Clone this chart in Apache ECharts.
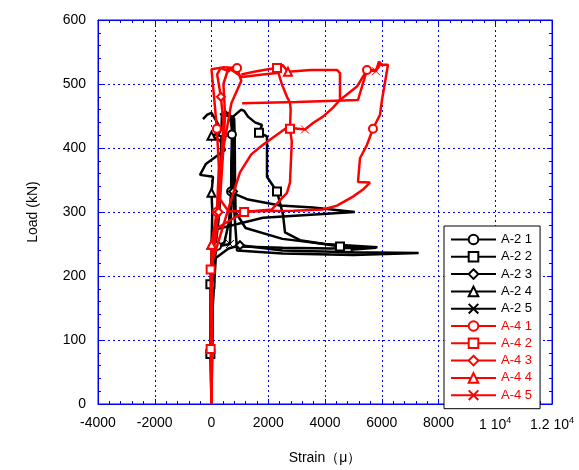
<!DOCTYPE html>
<html>
<head>
<meta charset="utf-8">
<script src="https://cdn.jsdelivr.net/npm/echarts@6/dist/echarts.min.js"></script>
<style>
html,body{margin:0;padding:0;background:#fff}
#main{width:579px;height:470px}
</style>
</head>
<body>
<div id="main"></div>
<script>
// strain (micro) , load (kN) pairs
var a21 = [[0,0],[20,80],[40,160],[80,220],[195,247],[450,252],[620,285],[690,332],[700,380],[720,421],[740,450],[800,445],[820,410],[830,340],[850,300],[1200,275],[2500,258],[4000,250],[5850,245],[4200,243],[2500,244],[1000,246]];
var a21Marks = [4,7,9];

var a22 = [[0,0],[-40,78],[-40,187],[0,225],[150,250],[280,300],[330,380],[360,440],[370,452],[760,449],[1047,460],[1150,458],[1286,449],[1533,440],[1780,436],[1674,424],[1956,418],[1956,355],[2167,341],[2308,332],[2520,296],[2590,268],[3119,256],[4528,246],[5800,244],[4900,241]];
var a22Marks = [1,2,15,19,23];

var a23 = [[0,0],[40,150],[150,228],[600,243],[1004,248],[2500,240],[5000,237],[7300,236],[5000,233],[2500,235],[900,240],[820,290],[760,332],[720,380],[780,421],[700,448],[500,457],[300,452]];
var a23Marks = [4,12];

var a24 = [[0,0],[0,150],[0,249],[30,300],[0,330],[53,355],[-405,358],[-200,375],[475,397],[300,412],[0,419],[370,425],[200,440],[0,455],[-150,452],[-300,445]];
var a24Marks = [2,4,10,11];

var a25 = [[0,0],[20,150],[60,245],[650,250],[690,300],[730,330],[760,400],[700,440],[620,456],[760,420],[730,330],[1250,320],[2414,310],[3577,307],[5050,300],[1815,291],[50,272]];
var a25Marks = [3];

var a41 = [[0,0],[0,100],[20,210],[100,262],[190,300],[260,370],[190,430],[90,480],[0,523],[400,526],[900,525],[1050,505],[700,470],[420,400],[300,320],[600,301],[1500,301],[2900,302],[3929,304],[4423,310],[4986,324],[5339,335],[5586,346],[5163,347],[5233,384],[5480,405],[5691,430],[5938,452],[6008,475],[6220,530],[5938,530],[5797,522],[5480,522],[5163,475],[3000,472],[1080,470]];
var a41Marks = [4,6,10,26,32];

var a42 = [[0,0],[-30,86],[-30,210],[200,275],[1150,300],[2132,304],[2450,320],[2660,330],[2766,346],[2800,380],[2830,410],[2766,430],[2790,460],[2766,471],[2660,480],[2484,499],[2308,525],[2000,523],[1500,519],[1050,515]];
var a42Marks = [1,2,4,11,16];

var a43 = [[0,0],[0,205],[80,250],[250,300],[350,380],[420,440],[330,480],[200,515],[320,525],[600,520],[760,526],[900,524]];
var a43Marks = [3,6];

var a44 = [[0,0],[0,249],[150,290],[350,370],[480,450],[420,500],[600,525],[1075,511],[1800,515],[2308,517],[2500,530],[2696,519],[3500,522],[4423,522],[4528,517],[4528,486],[4528,475]];
var a44Marks = [1,11];

var a45 = [[0,0],[0,200],[50,226],[300,262],[700,320],[1004,362],[1400,390],[1815,405],[2661,432],[3295,429],[3577,439],[3929,449],[4282,463],[4528,475],[5127,496],[5480,522],[5797,520],[5900,535],[6050,528]];
var a45Marks = [9,16];

var names = ['A-2 1','A-2 2','A-2 3','A-2 4','A-2 5','A-4 1','A-4 2','A-4 3','A-4 4','A-4 5'];
var xTicks = ['-4000','-2000','0','2000','4000','6000','8000','1 10{s|4}','1.2 10{s|4}'];

var allData = [a21,a22,a23,a24,a25,a41,a42,a43,a44,a45];
var allMarks = [a21Marks,a22Marks,a23Marks,a24Marks,a25Marks,a41Marks,a42Marks,a43Marks,a44Marks,a45Marks];
var crossPath = 'path://M0,0L10,10M10,0L0,10';
var shapes = ['emptyCircle','emptyRect','emptyDiamond','emptyTriangle',crossPath];

var FONT = 'Liberation Sans, Arial, sans-serif';
var BLUE = '#0000ff';

function build(pts, marks) {
  return pts.map(function (p, i) {
    return marks.indexOf(i) >= 0 ? p : {value: p, symbol: 'none'};
  });
}

var series = names.map(function (n, k) {
  var col = k < 5 ? '#000000' : '#ff0000';
  return {
    name: n,
    type: 'line',
    data: build(allData[k], allMarks[k]),
    symbol: shapes[k % 5],
    symbolSize: 8,
    showSymbol: true,
    showAllSymbol: true,
    lineStyle: {color: col, width: 2.5},
    itemStyle: {color: col, borderColor: col, borderWidth: 1},
    emphasis: {disabled: true},
    z: k < 5 ? 2 : 3
  };
});

var myChart = echarts.init(document.getElementById('main'));
var option = {
  backgroundColor: '#fff',
  animation: false,
  grid: {left: 98, right: 27, top: 20, bottom: 65, show: true, borderColor: BLUE, borderWidth: 1},
  legend: {
    orient: 'vertical',
    left: 444, top: 226,
    itemWidth: 45, itemHeight: 12, itemGap: 4.3,
    padding: [7, 8, 7, 6],
    borderColor: '#000', borderWidth: 1,
    backgroundColor: '#fff',
    textStyle: {fontSize: 13, fontFamily: FONT},
    data: names.map(function (n, i) {
      return {name: n, textStyle: {color: i < 5 ? '#000' : '#ff0000'}};
    })
  },
  xAxis: [{
    type: 'value', min: -4000, max: 12000, interval: 2000,
    name: 'Strain（μ）', nameLocation: 'middle', nameGap: 47,
    nameTextStyle: {fontSize: 14, color: '#000', fontFamily: FONT},
    axisLine: {onZero: false, lineStyle: {color: BLUE}},
    axisTick: {inside: true, length: 5, lineStyle: {color: BLUE}},
    minorTick: {show: true, splitNumber: 5, length: 3, lineStyle: {color: BLUE}},
    axisLabel: {
      fontSize: 14, color: '#000', fontFamily: FONT, margin: 12,
      formatter: function (v) { return xTicks[Math.round((v + 4000) / 2000)]; },
      rich: {s: {fontSize: 9, padding: [0, 0, 9, 0], fontFamily: FONT}}
    },
    splitLine: {show: true, lineStyle: {color: BLUE, type: [2, 3], width: 1}}
  }, {
    type: 'value', min: -4000, max: 12000, interval: 2000, position: 'top',
    axisLine: {onZero: false, lineStyle: {color: BLUE}},
    axisTick: {inside: true, length: 5, lineStyle: {color: BLUE}},
    minorTick: {show: true, splitNumber: 5, length: 3, lineStyle: {color: BLUE}},
    axisLabel: {show: false}, splitLine: {show: false}
  }],
  yAxis: [{
    type: 'value', min: 0, max: 600, interval: 100,
    name: 'Load (kN)', nameLocation: 'middle', nameGap: 58,
    nameTextStyle: {fontSize: 14, color: '#000', fontFamily: FONT},
    axisLine: {onZero: false, lineStyle: {color: BLUE}},
    axisTick: {inside: true, length: 5, lineStyle: {color: BLUE}},
    minorTick: {show: true, splitNumber: 5, length: 3, lineStyle: {color: BLUE}},
    axisLabel: {fontSize: 14, color: '#000', fontFamily: FONT, margin: 12},
    splitLine: {show: true, lineStyle: {color: BLUE, type: [2, 3], width: 1}}
  }, {
    type: 'value', min: 0, max: 600, interval: 100, position: 'right',
    axisLine: {onZero: false, lineStyle: {color: BLUE}},
    axisTick: {inside: true, length: 5, lineStyle: {color: BLUE}},
    minorTick: {show: true, splitNumber: 5, length: 3, lineStyle: {color: BLUE}},
    axisLabel: {show: false}, splitLine: {show: false}
  }],
  series: series
};
myChart.setOption(option);
</script>
</body>
</html>
